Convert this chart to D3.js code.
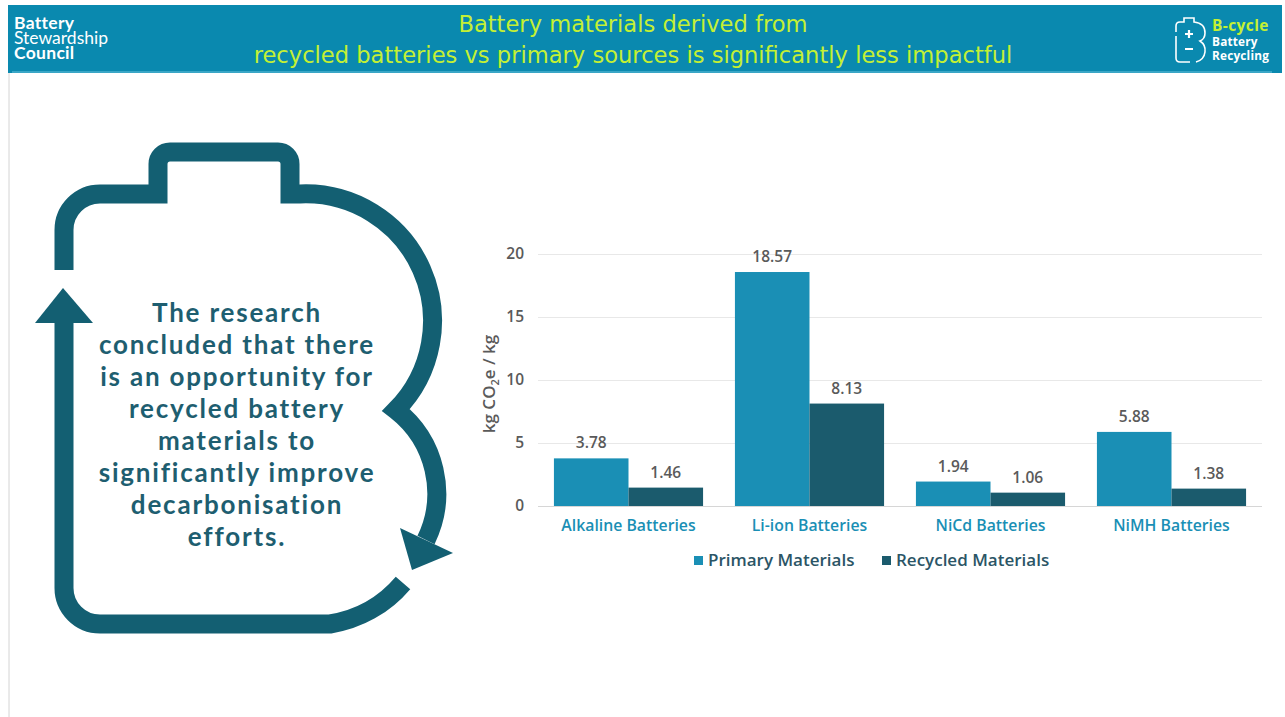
<!DOCTYPE html>
<html>
<head>
<meta charset="utf-8">
<script src="https://cdn.jsdelivr.net/npm/d3@7"></script>
<style>
  html, body { margin: 0; padding: 0; background: #fff; }
  svg text { font-family: "Open Sans", Lato, sans-serif; }
</style>
</head>
<body>
<svg id="slide" width="1285" height="717"></svg>
<script>
// chart values
var categories = ["Alkaline Batteries", "Li-ion Batteries", "NiCd Batteries", "NiMH Batteries"];
var seriesNames = ["Primary Materials", "Recycled Materials"];
var primaryValues = [3.78, 18.57, 1.94, 5.88];
var recycledValues = [1.46, 8.13, 1.06, 1.38];
var yTicks = [0, 5, 10, 15, 20];

var titleLines = ["Battery materials derived from",
                  "recycled batteries vs primary sources is significantly less impactful"];
var bodyLines = ["The research", "concluded that there", "is an opportunity for",
                 "recycled battery", "materials to", "significantly improve",
                 "decarbonisation", "efforts."];
var logoLines = [["Battery", 700], ["Stewardship", 400], ["Council", 700]];

var PRIMARY = "#1a8fb5",
    RECYCLED = "#1b5b6d",
    DARK = "#135f72",
    GREY = "#5a5a5a";

var svg = d3.select("#slide");

// page frame + header band
svg.append("line")
    .attr("x1", 9).attr("x2", 9).attr("y1", 70).attr("y2", 717)
    .attr("stroke", "#d4d4d4").attr("stroke-width", 1);
svg.append("rect")
    .attr("x", 8).attr("y", 5).attr("width", 1274).attr("height", 68)
    .attr("fill", "#0a89af");
svg.append("rect")
    .attr("x", 12).attr("y", 71).attr("width", 1260).attr("height", 2)
    .attr("fill", "#3aa6c6");

// Council logo: tight leading like the original
svg.append("g").selectAll("text")
    .data(logoLines)
  .enter().append("text")
    .attr("x", 14)
    .attr("y", function(d, i) { return 29 + i * 15; })
    .attr("fill", "#fff")
    .style("font-family", "Lato, sans-serif")
    .style("font-size", "17.5px")
    .style("font-weight", function(d) { return d[1]; })
    .style("letter-spacing", function(d) { return d[1] == 700 ? "0.3px" : "0px"; })
    .text(function(d) { return d[0]; });

svg.append("g").selectAll("text")
    .data(titleLines)
  .enter().append("text")
    .attr("x", 633)
    .attr("y", function(d, i) { return 32 + i * 31; })
    .attr("text-anchor", "middle")
    .style("font-family", "'DejaVu Sans', sans-serif")
    .style("font-size", "22.6px")
    .attr("fill", "#c4f034")
    .text(String);

// B-cycle mark (top right)
var bc = svg.append("g")
    .attr("fill", "none").attr("stroke", "#fff").attr("stroke-width", 1.6);
bc.append("path")
    .attr("d", "M1176,32 L1176,26 Q1176,22 1180,22 L1184,22 L1184,18 L1194,18 L1194,22 " +
               "Q1205,23 1205,33 Q1205,39 1200,41 Q1206,45 1205,52 Q1204,60 1196,62");
bc.append("path")
    .attr("d", "M1176,36 L1176,58 Q1176,62 1180,62 L1190,62");
bc.append("path")
    .attr("d", "M1185,34 L1193,34 M1189,30 L1189,38 M1185,49 L1193,49")
    .attr("stroke-width", 2.2);
var bcText = svg.append("g").style("font-family", "Lato, sans-serif").style("font-weight", 700);
bcText.append("text").attr("x", 1212).attr("y", 31).style("font-size", "15.5px")
    .style("letter-spacing", "0.4px").attr("fill", "#c4f034").text("B-cycle");
bcText.append("text").attr("x", 1212).attr("y", 46).style("font-size", "11.8px")
    .style("letter-spacing", "0.2px").attr("fill", "#fff").text("Battery");
bcText.append("text").attr("x", 1212).attr("y", 60.4).style("font-size", "11.8px")
    .style("letter-spacing", "0.2px").attr("fill", "#fff").text("Recycling");

// battery outline with the two arrows
var shape = svg.append("g")
    .attr("fill", "none")
    .attr("stroke", DARK)
    .attr("stroke-width", 19)
    .attr("stroke-linejoin", "miter");
shape.append("path")
    .attr("d", "M64,270 L64,230 A36,36 0 0 1 100,194 L158,194 L158,164 A12,12 0 0 1 170,152 " +
               "L278,152 A12,12 0 0 1 290,164 L290,194 L300,194 A127,127 0 0 1 396,410 " +
               "A106,106 0 0 1 426,540");
shape.append("path")
    .attr("d", "M403,583 A120,120 0 0 1 330,624 L100,624 A36,36 0 0 1 64,588 L64,318");
svg.append("path")
    .attr("d", "M400,528 L453,553 L412,570 Z")
    .attr("fill", DARK);
svg.append("path")
    .attr("d", "M63,288 L93,323 L35,323 Z")
    .attr("fill", DARK);

svg.append("g").selectAll("text")
    .data(bodyLines)
  .enter().append("text")
    .attr("x", 237)
    .attr("y", function(d, i) { return 322 + i * 32; })
    .attr("text-anchor", "middle")
    .style("font-family", "Lato, sans-serif")
    .style("font-size", "26px")
    .style("font-weight", 700)
    .style("letter-spacing", "1.8px")
    .attr("fill", "#1e5e70")
    .text(String);

// bar chart
var x0 = d3.scaleBand()
    .domain(categories)
    .range([538, 1262])
    .paddingInner(0.176)
    .paddingOuter(0.088);
var x1 = d3.scaleBand()
    .domain(seriesNames)
    .range([0, x0.bandwidth()]);
var y = d3.scaleLinear()
    .domain([0, 20])
    .range([506, 254]);
var color = d3.scaleOrdinal().domain(seriesNames).range([PRIMARY, RECYCLED]);

var rows = categories.map(function(c, i) {
  return {cat: c, values: [
    {name: seriesNames[0], value: primaryValues[i]},
    {name: seriesNames[1], value: recycledValues[i]}
  ]};
});

var yAxis = svg.append("g")
    .attr("transform", "translate(538,0)")
    .call(d3.axisLeft(y).tickValues(yTicks).tickSize(-724).tickPadding(14));
yAxis.select(".domain").remove();
yAxis.selectAll(".tick line")
    .attr("stroke", function(d) { return d == 0 ? "#d6d6d6" : "#e8e8e8"; });
yAxis.selectAll(".tick text")
    .style("font-family", "'Open Sans', sans-serif")
    .style("font-size", "15.5px")
    .style("font-weight", 600)
    .attr("fill", GREY);

var yLabel = svg.append("text")
    .attr("transform", "translate(495,384) rotate(-90)")
    .attr("text-anchor", "middle")
    .style("font-size", "17px")
    .style("font-weight", 600)
    .attr("fill", GREY);
yLabel.append("tspan").text("kg CO");
yLabel.append("tspan").style("font-size", "11px").attr("dy", 4).text("2");
yLabel.append("tspan").attr("dy", -4).text("e / kg");

var group = svg.append("g").selectAll("g.group")
    .data(rows)
  .enter().append("g")
    .attr("class", "group")
    .attr("transform", function(d) { return "translate(" + x0(d.cat) + ",0)"; });

group.selectAll("rect")
    .data(function(d) { return d.values; })
  .enter().append("rect")
    .attr("x", function(d) { return x1(d.name); })
    .attr("y", function(d) { return y(d.value); })
    .attr("width", x1.bandwidth())
    .attr("height", function(d) { return y(0) - y(d.value); })
    .attr("fill", function(d) { return color(d.name); });

group.selectAll("text.value")
    .data(function(d) { return d.values; })
  .enter().append("text")
    .attr("class", "value")
    .attr("x", function(d) { return x1(d.name) + x1.bandwidth() / 2; })
    .attr("y", function(d) { return y(d.value) - 10; })
    .attr("text-anchor", "middle")
    .style("font-size", "15.5px")
    .style("font-weight", 600)
    .attr("fill", GREY)
    .text(function(d) { return d.value.toFixed(2); });

svg.append("g").selectAll("text")
    .data(categories)
  .enter().append("text")
    .attr("x", function(d) { return x0(d) + x0.bandwidth() / 2; })
    .attr("y", 531)
    .attr("text-anchor", "middle")
    .style("font-size", "15.8px")
    .style("font-weight", 600)
    .attr("fill", PRIMARY)
    .text(String);

// legend
var legendX = [694, 882];
var legend = svg.append("g").selectAll("g")
    .data(seriesNames)
  .enter().append("g")
    .attr("transform", function(d, i) { return "translate(" + legendX[i] + ",556)"; });
legend.append("rect")
    .attr("width", 9).attr("height", 9)
    .attr("fill", function(d) { return color(d); });
legend.append("text")
    .attr("x", 14).attr("y", 10)
    .style("font-size", "17px")
    .style("font-weight", 600)
    .attr("fill", "#2b5566")
    .text(String);
</script>
</body>
</html>
